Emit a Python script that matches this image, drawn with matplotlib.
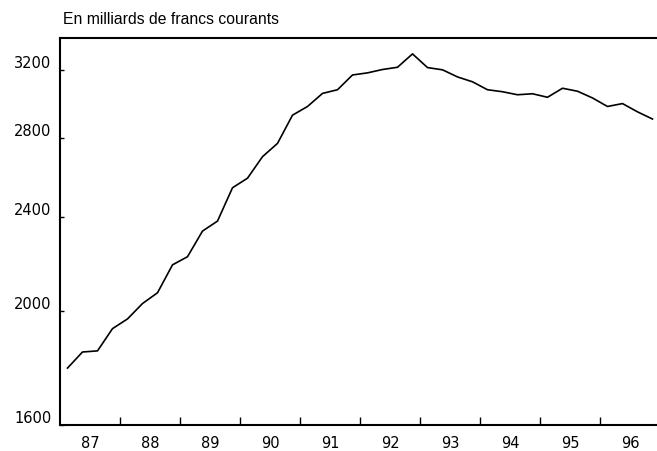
import numpy as np
import matplotlib
matplotlib.use("Agg")
import matplotlib.pyplot as plt
from matplotlib.ticker import FixedLocator, NullFormatter, NullLocator

# Quarterly values, 1987Q1 .. 1996Q4 (billions of current francs)
years = list(range(1987, 1997))
year_labels = ["87", "88", "89", "90", "91", "92", "93", "94", "95", "96"]
values = [
    1788, 1845, 1849, 1931,
    1968, 2028, 2071, 2187,
    2222, 2336, 2382, 2542,
    2590, 2701, 2772, 2929,
    2979, 3056, 3078, 3168,
    3181, 3202, 3216, 3301,
    3214, 3200, 3156, 3126,
    3078, 3066, 3048, 3054,
    3033, 3087, 3069, 3029,
    2979, 2996, 2948, 2907,
]
y_ticks = [1600, 2000, 2400, 2800, 3200]

quarters = np.array([years[0] + (i + 0.5) / 4 for i in range(len(values))])

fig = plt.figure(figsize=(6.57, 4.52), dpi=100)
ax = fig.add_axes([60 / 657, 1 - 426 / 452, 1 - 60 / 657, (426 - 39) / 452])

ax.plot(quarters, values, color="black", lw=1.2)

ax.set_yscale("log")
ax.set_ylim(1600, 3405)
ax.set_xlim(1987, 1996.95)

# y axis
ax.yaxis.set_major_locator(FixedLocator(y_ticks))
ax.yaxis.set_minor_locator(NullLocator())
ax.yaxis.set_minor_formatter(NullFormatter())
ax.set_yticklabels([str(v) for v in y_ticks])
ax.tick_params(axis="y", direction="in", length=3, width=1, pad=6, labelsize=10.5)
for lab in ax.get_yticklabels():
    lab.set_verticalalignment("bottom")

# x axis: ticks at year boundaries, labels at year centres
ax.xaxis.set_major_locator(FixedLocator([y + 1 for y in years[:-1]]))
ax.xaxis.set_major_formatter(NullFormatter())
ax.xaxis.set_minor_locator(FixedLocator([y + 0.5 for y in years]))
ax.set_xticklabels(year_labels, minor=True)
ax.tick_params(axis="x", which="major", direction="in", length=6, width=1)
ax.tick_params(axis="x", which="minor", length=0, pad=7, labelsize=10.5)

for side in ["left", "bottom", "top"]:
    ax.spines[side].set_linewidth(1.5)
ax.spines["right"].set_visible(False)

fig.text(63 / 657, 1 - 19 / 452, "En milliards de francs courants",
         fontsize=11.3, family="Liberation Sans", va="center", ha="left")

fig.savefig("out.png", dpi=100)
